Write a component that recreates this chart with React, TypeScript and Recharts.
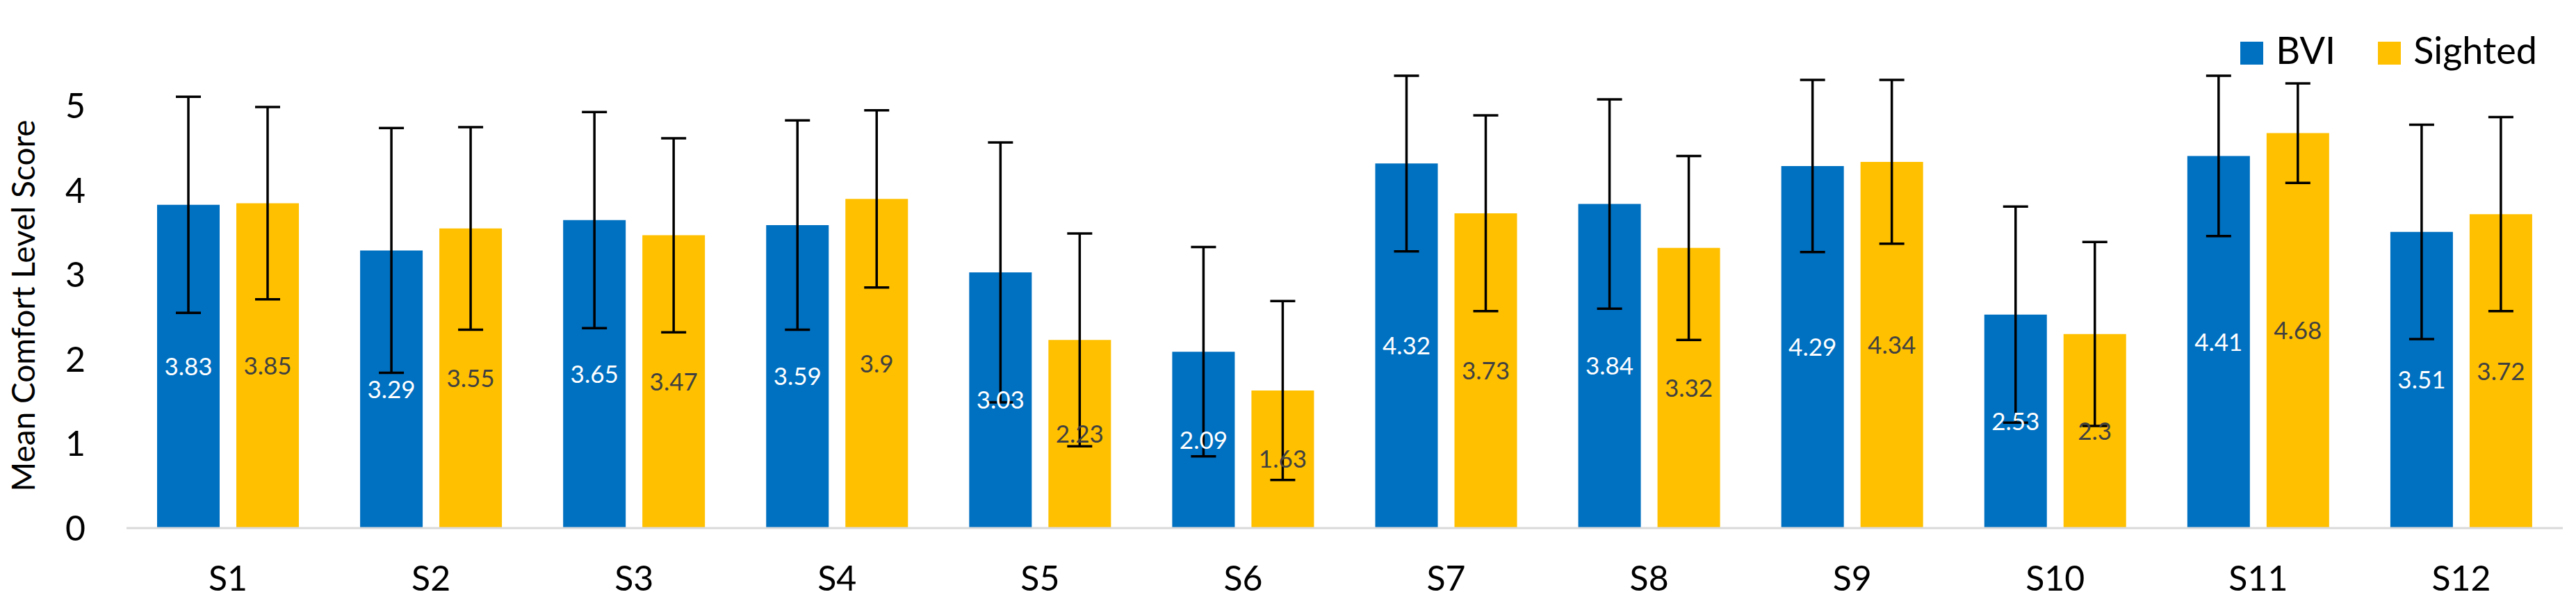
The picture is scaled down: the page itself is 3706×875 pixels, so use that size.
import React from "react";
import {
  BarChart,
  Bar,
  XAxis,
  YAxis,
  LabelList,
  ErrorBar,
} from "recharts";

document.body.style.margin = "0";

const categories = ["S1", "S2", "S3", "S4", "S5", "S6", "S7", "S8", "S9", "S10", "S11", "S12"];
const bviValues = [3.83, 3.29, 3.65, 3.59, 3.03, 2.09, 4.32, 3.84, 4.29, 2.53, 4.41, 3.51];
const sightedValues = [3.85, 3.55, 3.47, 3.9, 2.23, 1.63, 3.73, 3.32, 4.34, 2.3, 4.68, 3.72];
// error bar half-lengths
const bviErrors = [1.28, 1.45, 1.28, 1.24, 1.54, 1.24, 1.04, 1.24, 1.02, 1.28, 0.95, 1.27];
const sightedErrors = [1.14, 1.2, 1.15, 1.05, 1.26, 1.06, 1.16, 1.09, 0.97, 1.09, 0.59, 1.15];
const yTicks = [0, 1, 2, 3, 4, 5];

const series = [
  { key: "BVI", color: "#0070C0" },
  { key: "Sighted", color: "#FFC000" },
];

const FONT = "Lato, 'Open Sans', sans-serif";

const chartData = categories.map((name, i) => ({
  name,
  BVI: bviValues[i],
  Sighted: sightedValues[i],
  bviErr: bviErrors[i],
  sightedErr: sightedErrors[i],
}));

const ChartLegend = () => (
  <div
    style={{
      position: "absolute",
      top: 45,
      right: 56,
      display: "flex",
      fontFamily: FONT,
      fontSize: 54,
      lineHeight: 1,
      color: "#000",
    }}
  >
    {series.map((s, index) => (
      <div
        key={s.key}
        style={{ display: "flex", alignItems: "flex-start", marginLeft: index > 0 ? 61 : 0 }}
      >
        <span
          style={{
            display: "inline-block",
            width: 33,
            height: 33,
            marginTop: 15,
            marginRight: 18,
            background: s.color,
          }}
        />
        <span>{s.key}</span>
      </div>
    ))}
  </div>
);

const renderYLabel = (props: { viewBox?: { x: number; y: number; width: number; height: number } }) => {
  const vb = props.viewBox;
  if (!vb) return null;
  const cx = vb.x + 32;
  const cy = vb.y + vb.height / 2 + 14;
  return (
    <text
      x={cx}
      y={cy}
      transform={`rotate(-90, ${cx}, ${cy})`}
      textAnchor="middle"
      dominantBaseline="central"
      fontFamily={FONT}
      fontSize={46}
      fill="#000"
    >
      Mean Comfort Level Score
    </text>
  );
};

export default function App() {
  return (
    <div style={{ position: "relative", width: 3706, height: 875, background: "#fff" }}>
      <BarChart
        width={3706}
        height={875}
        data={chartData}
        margin={{ top: 92, right: 19, left: 0, bottom: 0 }}
        barSize={90}
        barGap={24}
      >
        <XAxis
          dataKey="name"
          height={115}
          axisLine={{ stroke: "#d9d9d9", strokeWidth: 3 }}
          tickLine={false}
          tickMargin={48}
          tick={{ fill: "#000", fontSize: 50, fontFamily: FONT }}
        />
        <YAxis
          width={182}
          domain={[0, 5.5]}
          ticks={yTicks}
          axisLine={false}
          tickLine={false}
          tickMargin={53}
          tick={{ fill: "#000", fontSize: 50, fontFamily: FONT }}
          label={{ content: renderYLabel }}
        />
        <Bar dataKey="BVI" name="BVI" fill="#0070C0" isAnimationActive={false}>
          <ErrorBar dataKey="bviErr" width={18} strokeWidth={3.5} stroke="#000" isAnimationActive={false} />
          <LabelList
            dataKey="BVI"
            position="center"
            fill="#fff"
            fontSize={35}
            fontFamily={FONT}
          />
        </Bar>
        <Bar dataKey="Sighted" name="Sighted" fill="#FFC000" isAnimationActive={false}>
          <ErrorBar dataKey="sightedErr" width={18} strokeWidth={3.5} stroke="#000" isAnimationActive={false} />
          <LabelList
            dataKey="Sighted"
            position="center"
            fill="#404040"
            fontSize={35}
            fontFamily={FONT}
          />
        </Bar>
      </BarChart>
      <ChartLegend />
    </div>
  );
}
